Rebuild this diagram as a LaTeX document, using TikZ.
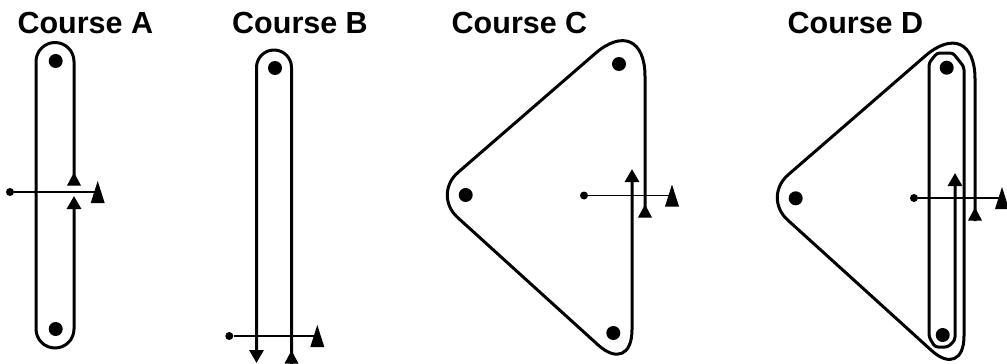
\documentclass[tikz,border=0pt]{standalone}
\usepackage{fontspec}
\setsansfont{Liberation Sans}
\usetikzlibrary{arrows.meta}

\begin{document}
\begin{tikzpicture}[x=1pt, y=-1pt,
  coursetitle/.style={font=\sffamily\bfseries\fontsize{30.5}{32}\selectfont, anchor=base, inner sep=0pt},
  buoy/.style={circle, fill=black, inner sep=0pt, minimum size=14pt},
  startdot/.style={circle, fill=black, inner sep=0pt, minimum size=8pt},
  track/.style={line width=3pt, line join=round},
  startline/.style={line width=1.9pt},
  trackend/.style={-{Triangle[width=14pt,length=13pt]}},
  flag/.pic={\fill (-7,11) -- (7,11) -- (0,-11) -- cycle;},
  uptip/.pic={\fill (-7,6.5) -- (7,6.5) -- (0,-6.5) -- cycle;}]
\useasboundingbox (0,0) rectangle (1007,364);

% titles
\node[coursetitle] (tA) at (85.3,33) {Course A};
\node[coursetitle] (tB) at (300,33) {Course B};
\node[coursetitle] (tC) at (519.5,33) {Course C};
\node[coursetitle] (tD) at (855.4,33) {Course D};

% Course A
\node[buoy] (a1) at (55.7,61) {};
\node[buoy] (a2) at (55.7,329) {};
\draw[track, trackend, rounded corners=19] (74,185) -- (74,42.5) -- (36,42.5) -- (36,348) -- (74,348) -- (74,196);
\pic at (74,179) {uptip};
\node[startdot] (sA) at (10,192) {};
\coordinate (fA) at (97.7,192);
\draw[startline] (sA) -- (fA);
\pic at (fA) {flag};

% Course B
\node[buoy] (b1) at (275,68) {};
\draw[track, trackend, rounded corners=17.5] (291.5,370) -- (291.5,50) -- (256.5,50) -- (256.5,363);
\pic at (291.5,357) {uptip};
\node[startdot] (sB) at (229.3,336) {};
\coordinate (fB) at (317.3,336);
\draw[startline] (sB) -- (fB);
\pic at (fB) {flag};

% Course C
\node[buoy] (c1) at (619,64) {};
\node[buoy] (c2) at (465.7,195) {};
\node[buoy] (c3) at (613.3,333) {};
\draw[track, trackend] (645,217) [rounded corners=66] -- (645,10.3) -- (538.7,102.5)
  [rounded corners=34] -- (432.4,194.6) -- (532.2,285.2)
  [rounded corners=46] -- (632,375.7) -- (632,169);
\pic at (645,211) {uptip};
\node[startdot] (sC) at (584,195.5) {};
\coordinate (fC) at (672,195.5);
\draw[startline] (sC) -- (fC);
\pic at (fC) {flag};

% Course D
\node[buoy] (d1) at (946.7,67.7) {};
\node[buoy] (d2) at (795.7,198.3) {};
\node[buoy] (d3) at (942.7,335) {};
\draw[track, trackend] (975,221) [rounded corners=66] -- (975,12.8) -- (868.7,105)
  [rounded corners=34] -- (762.4,197.1) -- (863.2,288.5)
  [rounded corners=44] -- (964,380) -- (964,200)
  [rounded corners=3] -- (964,67) -- (953,53) -- (937,53) -- (929,63)
  -- (929,337) -- (935,347) -- (948,347) -- (955,340) -- (955,173);
\pic at (975,214) {uptip};
\node[startdot] (sD) at (914,198) {};
\coordinate (fD) at (1002,198);
\draw[startline] (sD) -- (fD);
\pic at (fD) {flag};
\end{tikzpicture}
\end{document}
